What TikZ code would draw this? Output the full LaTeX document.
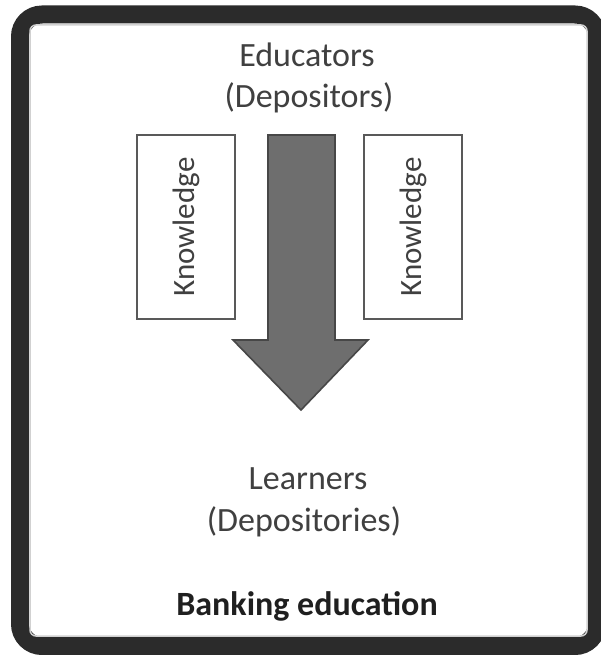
\documentclass[tikz,border=0pt]{standalone}
\usepackage{fontspec}
\setmainfont{Carlito}
\begin{document}
\begin{tikzpicture}[x=1pt,y=-1pt,
  frame/.style={draw=black!83,line width=18pt,rounded corners=22pt},
  knowbox/.style={draw=black!65,line width=1.8pt,fill=white,minimum width=98pt,minimum height=184pt,inner sep=0pt},
  bigarrow/.style={draw=black!72,line width=1.6pt,fill=black!57,line join=miter},
  label/.style={text=black!75,font=\fontsize{34}{42}\selectfont,anchor=base,inner sep=0pt},
  knowtext/.style={text=black!75,font=\fontsize{31}{38}\selectfont,rotate=90,inner sep=0pt},
  title/.style={text=black!88,font=\bfseries\fontsize{34}{40}\selectfont,anchor=base,inner sep=0pt}]
\useasboundingbox (0,0) rectangle (600,655);
\fill[white] (0,0) rectangle (600,655);
% outer frame
\draw[frame] (20,14.5) rectangle (597,646);
\draw[black!18,line width=1.5pt,rounded corners=6pt] (30,25) rectangle (587,636);
% knowledge boxes
\node[knowbox] (kl) at (186,227) {};
\node[knowbox] (kr) at (413,227) {};
\node[knowtext] (tl) at (186,227) {Knowledge};
\node[knowtext] (tr) at (413,227) {Knowledge};
% downward arrow
\draw[bigarrow] (268,135) -- (335,135) -- (335,340) -- (368,340) -- (301,410)
  -- (233,340) -- (268,340) -- cycle;
% labels
\node[label] (edu) at (307,67) {Educators};
\node[label] (dep) at (309,108) {(Depositors)};
\node[label] (lrn) at (308,489) {Learners};
\node[label] (dry) at (304,531) {(Depositories)};
\node[title] (ban) at (307,615) {Banking education};
\end{tikzpicture}
\end{document}
